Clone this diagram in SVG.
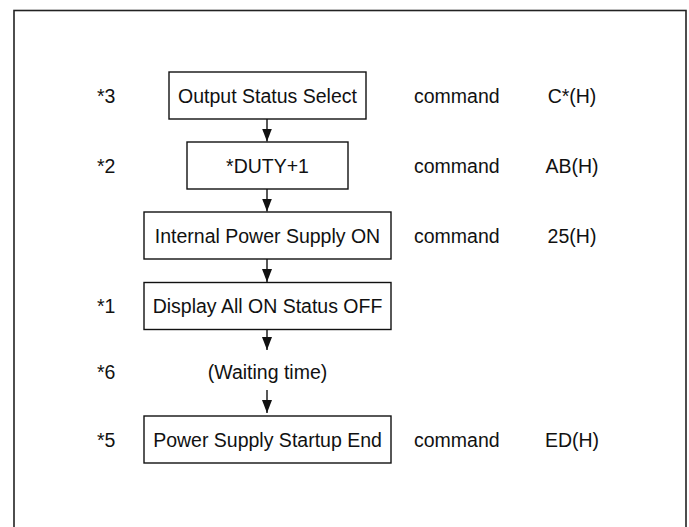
<svg xmlns="http://www.w3.org/2000/svg" width="689" height="527" viewBox="0 0 689 527">
<style>
text{font-family:"Liberation Sans",Arial,sans-serif;font-size:19.5px;fill:#111}
.c{text-anchor:middle}
.box{fill:#fff;stroke:#111;stroke-width:1.4}
.edge{stroke:#111;stroke-width:1.4;fill:none}
</style>
<defs>
<marker id="ah" markerWidth="13" markerHeight="10" refX="13" refY="5" orient="auto" markerUnits="userSpaceOnUse" viewBox="0 0 13 10">
<path d="M0,0 L13,5 L0,10 Z" fill="#111"/>
</marker>
</defs>
<rect x="14" y="10.5" width="672" height="540" fill="none" stroke="#222" stroke-width="1.6"/>
<g id="n1"><rect class="box" x="169" y="72" width="197" height="47"/><text class="c" x="267.5" y="102.5">Output Status Select</text></g>
<g id="n2"><rect class="box" x="187" y="142" width="161" height="47"/><text class="c" x="267.5" y="172.5">*DUTY+1</text></g>
<g id="n3"><rect class="box" x="144" y="212" width="247" height="47"/><text class="c" x="267.5" y="242.5">Internal Power Supply ON</text></g>
<g id="n4"><rect class="box" x="144" y="282.5" width="247" height="47"/><text class="c" x="267.5" y="313">Display All ON Status OFF</text></g>
<g id="n5"><text class="c" x="267.5" y="379">(Waiting time)</text></g>
<g id="n6"><rect class="box" x="144" y="416" width="247" height="47"/><text class="c" x="267.5" y="446.5">Power Supply Startup End</text></g>
<g id="labels">
<text x="97" y="102.5">*3</text>
<text x="97" y="172.5">*2</text>
<text x="97" y="313">*1</text>
<text x="97" y="379">*6</text>
<text x="97" y="446.5">*5</text>
<text x="414" y="102.5">command</text>
<text x="414" y="173">command</text>
<text x="414" y="243">command</text>
<text x="414" y="446.5">command</text>
<text class="c" x="572" y="102.5">C*(H)</text>
<text class="c" x="572" y="173">AB(H)</text>
<text class="c" x="572" y="243">25(H)</text>
<text class="c" x="572" y="446.5">ED(H)</text>
</g>
<g id="connectors">
<line class="edge" x1="267" y1="119" x2="267" y2="141.5" marker-end="url(#ah)"/>
<line class="edge" x1="267" y1="189" x2="267" y2="211.5" marker-end="url(#ah)"/>
<line class="edge" x1="267" y1="259" x2="267" y2="282" marker-end="url(#ah)"/>
<line class="edge" x1="267" y1="329.5" x2="267" y2="350" marker-end="url(#ah)"/>
<line class="edge" x1="267" y1="390" x2="267" y2="413" marker-end="url(#ah)"/>
</g>
</svg>
